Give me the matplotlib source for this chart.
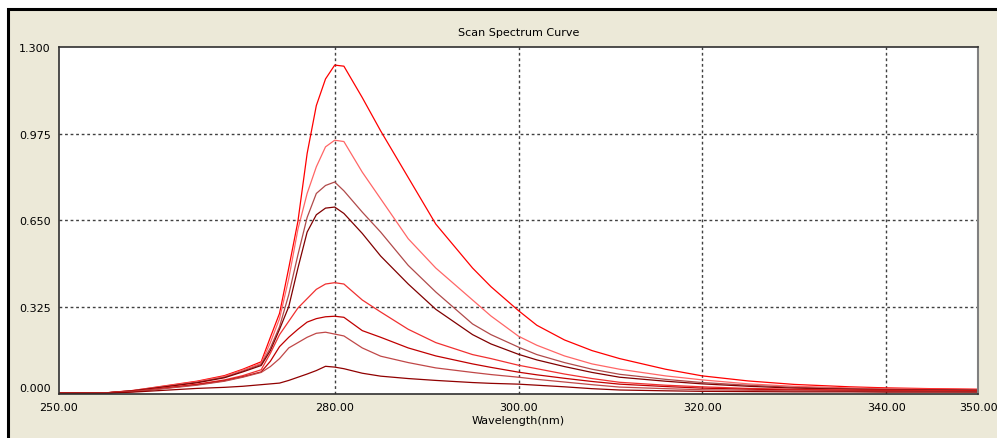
import matplotlib.pyplot as plt
from matplotlib.patches import Rectangle

wavelength = [250, 255, 258, 260, 265, 268, 270, 272, 273, 274, 275, 276, 277, 278, 279,
              280, 281, 283, 285, 288, 291, 295, 297, 300, 302, 305, 308, 311, 316, 320,
              325, 330, 336, 340, 345, 350]

s1 = [0, 0.001, 0.010, 0.020, 0.045, 0.066, 0.090, 0.118, 0.21, 0.30, 0.47, 0.646, 0.90, 1.08, 1.18,
      1.232, 1.228, 1.11, 0.985, 0.81, 0.635, 0.47, 0.40, 0.31, 0.255, 0.20, 0.16, 0.13, 0.09, 0.065,
      0.046, 0.033, 0.024, 0.02, 0.017, 0.015]
s2 = [0, 0.001, 0.010, 0.019, 0.043, 0.063, 0.087, 0.112, 0.19, 0.28, 0.43, 0.616, 0.75, 0.85, 0.925,
      0.95, 0.945, 0.83, 0.73, 0.58, 0.47, 0.35, 0.29, 0.214, 0.18, 0.14, 0.11, 0.09, 0.065, 0.05,
      0.035, 0.026, 0.02, 0.017, 0.015, 0.013]
s3 = [0, 0.001, 0.009, 0.018, 0.041, 0.060, 0.083, 0.108, 0.17, 0.25, 0.37, 0.52, 0.66, 0.75, 0.78,
      0.793, 0.76, 0.68, 0.605, 0.48, 0.38, 0.26, 0.22, 0.173, 0.145, 0.115, 0.09, 0.071, 0.052, 0.04,
      0.03, 0.022, 0.017, 0.015, 0.013, 0.012]
s4 = [0, 0.001, 0.009, 0.017, 0.039, 0.058, 0.080, 0.104, 0.16, 0.24, 0.325, 0.47, 0.605, 0.67, 0.695,
      0.699, 0.675, 0.60, 0.515, 0.41, 0.315, 0.22, 0.185, 0.146, 0.125, 0.10, 0.078, 0.06, 0.045, 0.035,
      0.026, 0.019, 0.015, 0.013, 0.012, 0.011]
s5 = [0, 0.001, 0.007, 0.014, 0.034, 0.050, 0.066, 0.088, 0.15, 0.22, 0.27, 0.32, 0.355, 0.39, 0.41,
      0.415, 0.41, 0.35, 0.305, 0.24, 0.19, 0.145, 0.13, 0.105, 0.092, 0.072, 0.055, 0.041, 0.03, 0.024,
      0.018, 0.015, 0.012, 0.011, 0.01, 0.009]
s6 = [0, 0.001, 0.007, 0.013, 0.032, 0.047, 0.062, 0.080, 0.12, 0.175, 0.21, 0.24, 0.267, 0.28, 0.287,
      0.289, 0.285, 0.235, 0.21, 0.17, 0.14, 0.11, 0.097, 0.079, 0.069, 0.056, 0.044, 0.034, 0.025, 0.019,
      0.015, 0.012, 0.01, 0.009, 0.008, 0.008]
s7 = [0, 0.001, 0.006, 0.012, 0.030, 0.045, 0.060, 0.078, 0.10, 0.13, 0.17, 0.19, 0.21, 0.225, 0.229,
      0.222, 0.215, 0.17, 0.139, 0.115, 0.095, 0.078, 0.07, 0.06, 0.052, 0.042, 0.032, 0.023, 0.017, 0.013,
      0.011, 0.009, 0.008, 0.007, 0.007, 0.006]
s8 = [0, 0.0, 0.004, 0.008, 0.018, 0.022, 0.026, 0.032, 0.035, 0.038, 0.048, 0.06, 0.072, 0.085, 0.101,
      0.098, 0.092, 0.075, 0.064, 0.055, 0.048, 0.04, 0.037, 0.034, 0.03, 0.024, 0.017, 0.012, 0.009, 0.007,
      0.006, 0.005, 0.005, 0.004, 0.004, 0.004]

series = [s1, s2, s3, s4, s5, s6, s7, s8]
colors = ['#ff0000', '#ff6666', '#b04a4a', '#800000', '#f03030', '#c00000', '#c04848', '#900000']

xticks = [250, 280, 300, 320, 340, 350]
yticks = [0, 0.325, 0.650, 0.975, 1.300]

fig = plt.figure(figsize=(9.97, 4.39), dpi=100, facecolor='white')

# beige panel with black border on top/left
fig.patches.append(Rectangle((8 / 997, -0.1), 1.1, 1.1 - 10 / 439, transform=fig.transFigure,
                             facecolor='#ece9d8', edgecolor='black', linewidth=2.2, zorder=-10))

ax = fig.add_axes([59 / 997, 1 - 395 / 439, 919 / 997, 347 / 439])
ax.set_facecolor('white')

for s, c in zip(series, colors):
    ax.plot(wavelength, s, color=c, linewidth=0.9)

ax.set_xlim(250, 350)
ax.set_ylim(-0.003, 1.3)
ax.set_xticks(xticks)
ax.set_xticklabels(['%.2f' % t for t in xticks], fontsize=8)
ax.set_yticks(yticks)
ax.set_yticklabels(['%.3f' % t for t in yticks], fontsize=8)
ax.tick_params(length=0, pad=6)
ax.get_yticklabels()[0].set_va('bottom')

for x in [280, 300, 320, 340]:
    ax.axvline(x, color='#404040', linestyle=(0, (2, 2)), linewidth=1.0, zorder=0)
for y in [0.325, 0.650, 0.975]:
    ax.axhline(y, color='#404040', linestyle=(0, (2, 2)), linewidth=1.0, zorder=0)

for side in ['left', 'bottom', 'top']:
    ax.spines[side].set_color('#303030')
    ax.spines[side].set_linewidth(1.2)
ax.spines['right'].set_color('#808080')
ax.spines['right'].set_linewidth(1.5)

ax.set_title('Scan Spectrum Curve', fontsize=8, pad=9)
ax.set_xlabel('Wavelength(nm)', fontsize=8, labelpad=2)

plt.savefig('out.png', dpi=100, facecolor=fig.get_facecolor())
